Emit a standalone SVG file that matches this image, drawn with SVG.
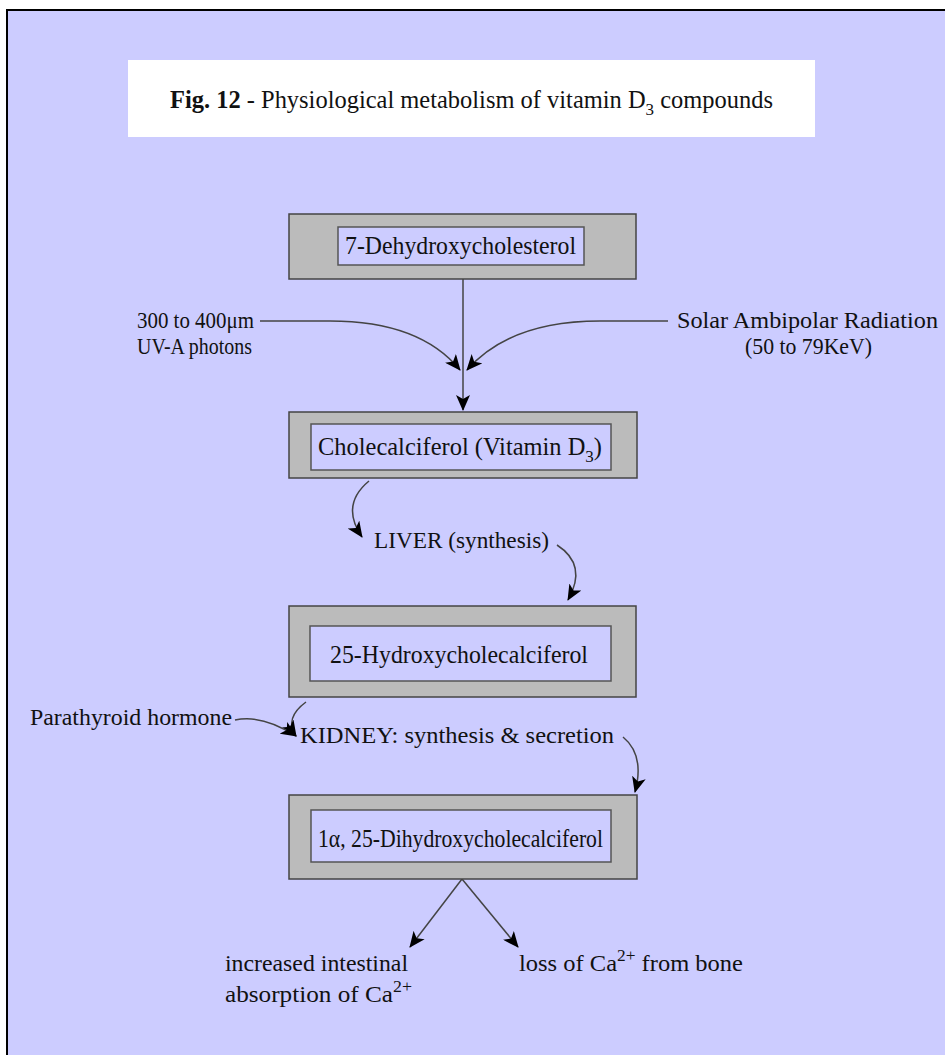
<svg xmlns="http://www.w3.org/2000/svg" width="945" height="1055" viewBox="0 0 945 1055">
<style>
text{font-family:"Liberation Serif","Times New Roman",serif;fill:#111;}
.lbl{font-size:24px;}
.box{font-size:24.5px;}
.outer{fill:#BBBBBB;stroke:#444;stroke-width:1.5;}
.inner{fill:#CCCCFF;stroke:#555;stroke-width:1.5;}
.conn{fill:none;stroke:#444;stroke-width:1.5;marker-end:url(#ah);}
</style>
<defs>
<marker id="ah" markerUnits="userSpaceOnUse" markerWidth="18" markerHeight="14" refX="15" refY="7" orient="auto">
<path d="M0,0 L16,7 L0,14 L4,7 z" fill="#000"/>
</marker>
</defs>
<rect x="7" y="10" width="950" height="1060" fill="#CCCCFF" stroke="#000" stroke-width="2"/>
<g id="title">
<rect x="128" y="60" width="687" height="77" fill="#FFFFFF"/>
<text x="170" y="108" textLength="603" lengthAdjust="spacingAndGlyphs" style="font-size:24.5px"><tspan font-weight="bold">Fig. 12</tspan> - Physiological metabolism of vitamin D<tspan font-size="17" dy="7">3</tspan><tspan dy="-7"> compounds</tspan></text>
</g>
<g id="connectors">
<path class="conn" d="M260,321 L330,321 Q420,321 460,370"/>
<path class="conn" d="M668,321 L600,321 Q510,321 467,370"/>
<path class="conn" d="M463,279 L463,410"/>
<path class="conn" d="M369,481 Q340,505 362,537"/>
<path class="conn" d="M557,545 Q588,565 568,600"/>
<path class="conn" d="M306,702 Q284,718 296,736"/>
<path class="conn" d="M235,720 Q262,714 296,736"/>
<path class="conn" d="M623,737 Q645,755 635,792"/>
<path class="conn" d="M462,879 L410,947"/>
<path class="conn" d="M462,879 L518,947"/>
</g>
<g id="n1">
<rect class="outer" x="289" y="214" width="347" height="65"/>
<rect class="inner" x="338" y="227" width="246" height="38"/>
<text class="box" x="345" y="254" textLength="231" lengthAdjust="spacingAndGlyphs">7-Dehydroxycholesterol</text>
</g>
<g id="n2">
<rect class="outer" x="289" y="412" width="348" height="66"/>
<rect class="inner" x="311" y="424" width="300" height="46"/>
<text class="box" x="318" y="455" textLength="284" lengthAdjust="spacingAndGlyphs">Cholecalciferol (Vitamin D<tspan font-size="17" dy="7">3</tspan><tspan dy="-7">)</tspan></text>
</g>
<g id="n3">
<rect class="outer" x="289" y="606" width="347" height="91"/>
<rect class="inner" x="310" y="626" width="301" height="55"/>
<text class="box" x="330" y="663" textLength="258" lengthAdjust="spacingAndGlyphs">25-Hydroxycholecalciferol</text>
</g>
<g id="n4">
<rect class="outer" x="289" y="795" width="348" height="84"/>
<rect class="inner" x="311" y="810" width="300" height="52"/>
<text class="box" x="318" y="847" textLength="285" lengthAdjust="spacingAndGlyphs">1α, 25-Dihydroxycholecalciferol</text>
</g>
<g id="uv">
<text class="lbl" x="137" y="328" textLength="117" lengthAdjust="spacingAndGlyphs">300 to 400μm</text>
<text class="lbl" x="137" y="354" textLength="115" lengthAdjust="spacingAndGlyphs">UV-A photons</text>
</g>
<g id="solar">
<text class="lbl" x="677" y="328" textLength="261" lengthAdjust="spacingAndGlyphs">Solar Ambipolar Radiation</text>
<text class="lbl" x="745" y="354" textLength="127" lengthAdjust="spacingAndGlyphs">(50 to 79KeV)</text>
</g>
<g id="liver">
<text class="lbl" x="374" y="548" textLength="175" lengthAdjust="spacingAndGlyphs">LIVER (synthesis)</text>
</g>
<g id="pth">
<text class="lbl" x="30" y="725" textLength="202" lengthAdjust="spacingAndGlyphs">Parathyroid hormone</text>
</g>
<g id="kidney">
<text class="lbl" x="300" y="743" textLength="314" lengthAdjust="spacingAndGlyphs">KIDNEY: synthesis &amp; secretion</text>
</g>
<g id="intestine">
<text class="lbl" x="225" y="971" textLength="183" lengthAdjust="spacingAndGlyphs">increased intestinal</text>
<text class="lbl" x="225" y="1002" textLength="187" lengthAdjust="spacingAndGlyphs">absorption of Ca<tspan font-size="17" dy="-10">2+</tspan></text>
</g>
<g id="bone">
<text class="lbl" x="519" y="971" textLength="224" lengthAdjust="spacingAndGlyphs">loss of Ca<tspan font-size="17" dy="-10">2+</tspan><tspan dy="10"> from bone</tspan></text>
</g>
</svg>
